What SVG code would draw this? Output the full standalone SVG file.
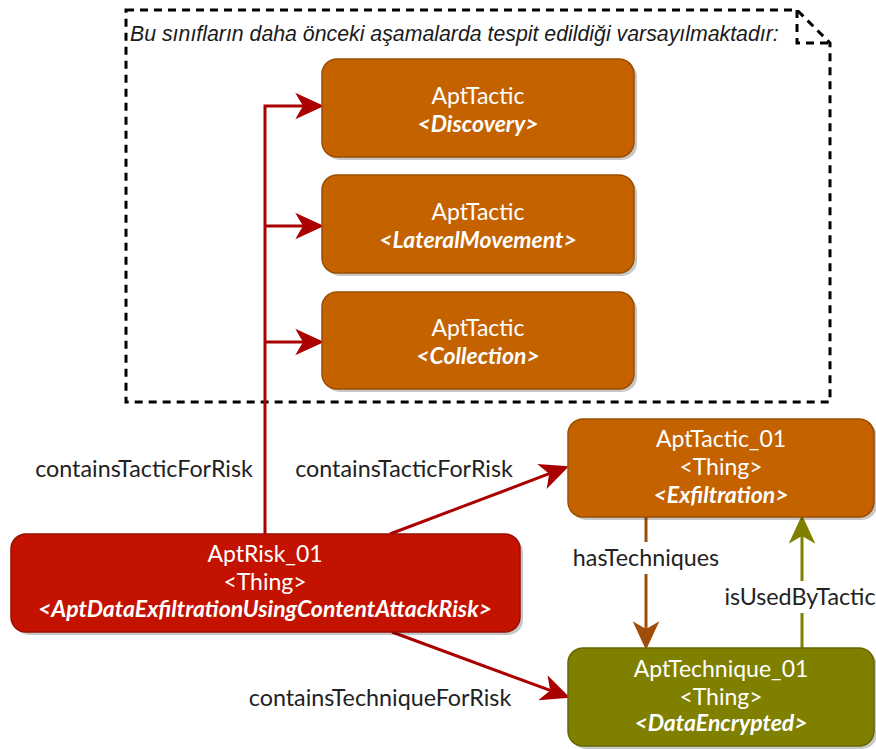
<svg xmlns="http://www.w3.org/2000/svg" width="876" height="749" viewBox="0 0 876 749">
  <defs>
    <style>
      .note { fill: none; stroke: #000; stroke-width: 3; stroke-dasharray: 8 6; }
      .note-text { font-family: "Liberation Sans", Arial, sans-serif; font-style: italic; font-size: 21.3px; fill: #1a1a1a; }
      .shadow { fill: #000; opacity: 0.22; }
      .tactic { fill: #c46200; stroke: #9c4e00; stroke-width: 1.5; }
      .risk { fill: #c41200; stroke: #9a0e00; stroke-width: 1.5; }
      .technique { fill: #808000; stroke: #666600; stroke-width: 1.5; }
      .node-text { font-family: Lato, "Noto Sans", sans-serif; font-size: 23px; fill: #ffffff; text-anchor: middle; }
      .node-text .cls { font-weight: bold; font-style: italic; }
      .edge { fill: none; stroke-width: 3; }
      .edge-red { stroke: #aa0000; }
      .edge-brown { stroke: #9f4d08; }
      .edge-olive { stroke: #7f7f00; }
      .label { font-family: Lato, "Noto Sans", sans-serif; font-size: 23.3px; fill: #222; text-anchor: middle; }
    </style>
    <marker id="arrow-red" markerUnits="userSpaceOnUse" markerWidth="30" markerHeight="30" viewBox="0 -13 27 26" refX="7" refY="0" orient="auto">
      <path d="M26,0 L0,-12 L7,0 L0,12 Z" fill="#aa0000"/>
    </marker>
    <marker id="arrow-brown" markerUnits="userSpaceOnUse" markerWidth="30" markerHeight="30" viewBox="0 -13 27 26" refX="7" refY="0" orient="auto">
      <path d="M26,0 L0,-12 L7,0 L0,12 Z" fill="#9f4d08"/>
    </marker>
    <marker id="arrow-olive" markerUnits="userSpaceOnUse" markerWidth="30" markerHeight="30" viewBox="0 -13 27 26" refX="7" refY="0" orient="auto">
      <path d="M26,0 L0,-12 L7,0 L0,12 Z" fill="#7f7f00"/>
    </marker>
  </defs>

  <rect width="876" height="749" fill="#ffffff"/>

  <!-- dashed note with folded corner -->
  <g id="note">
    <path class="note" d="M126,10 H797 L830,43 V402 H126 Z"/>
    <path class="note" d="M797,10 V43 H830"/>
    <text class="note-text" x="130" y="41">Bu sınıfların daha önceki aşamalarda tespit edildiği varsayılmaktadır:</text>
  </g>

  <!-- connectors -->
  <g id="connectors">
    <path class="edge edge-red" d="M265,534 V106 H303" marker-end="url(#arrow-red)"/>
    <path class="edge edge-red" d="M265,226 H303" marker-end="url(#arrow-red)"/>
    <path class="edge edge-red" d="M265,342 H303" marker-end="url(#arrow-red)"/>
    <path class="edge edge-red" d="M390,534 L549.2,473.7" marker-end="url(#arrow-red)"/>
    <path class="edge edge-red" d="M392,632 L550.2,690.4" marker-end="url(#arrow-red)"/>
    <path class="edge edge-brown" d="M646,517 V629" marker-end="url(#arrow-brown)"/>
    <path class="edge edge-olive" d="M802,648 V536" marker-end="url(#arrow-olive)"/>

    <text class="label" x="144" y="477">containsTacticForRisk</text>
    <text class="label" x="404" y="477">containsTacticForRisk</text>
    <text class="label" x="380" y="706">containsTechniqueForRisk</text>
    <rect x="571" y="542" width="152" height="32" fill="#ffffff"/>
    <text class="label" x="646" y="566">hasTechniques</text>
    <rect x="721" y="581" width="155" height="32" fill="#ffffff"/>
    <text class="label" x="800" y="605">isUsedByTactic</text>
  </g>

  <!-- tactic classes -->
  <g id="tactic-discovery">
    <rect class="shadow" x="325" y="62" width="312" height="98" rx="15"/>
    <rect class="tactic" x="322" y="59" width="312" height="98" rx="15"/>
    <text class="node-text" x="478" y="104">AptTactic</text>
    <text class="node-text" x="478" y="132"><tspan class="cls">&lt;Discovery&gt;</tspan></text>
  </g>
  <g id="tactic-lateral-movement">
    <rect class="shadow" x="325" y="178" width="312" height="98" rx="15"/>
    <rect class="tactic" x="322" y="175" width="312" height="98" rx="15"/>
    <text class="node-text" x="478" y="220">AptTactic</text>
    <text class="node-text" x="478" y="248"><tspan class="cls">&lt;LateralMovement&gt;</tspan></text>
  </g>
  <g id="tactic-collection">
    <rect class="shadow" x="325" y="295" width="312" height="97" rx="15"/>
    <rect class="tactic" x="322" y="292" width="312" height="97" rx="15"/>
    <text class="node-text" x="478" y="336">AptTactic</text>
    <text class="node-text" x="478" y="364"><tspan class="cls">&lt;Collection&gt;</tspan></text>
  </g>

  <!-- instances -->
  <g id="apt-tactic-01">
    <rect class="shadow" x="571" y="422" width="306" height="98" rx="15"/>
    <rect class="tactic" x="568" y="419" width="306" height="98" rx="15"/>
    <text class="node-text" x="721" y="447">AptTactic_01</text>
    <text class="node-text" x="721" y="475">&lt;Thing&gt;</text>
    <text class="node-text" x="721" y="503"><tspan class="cls">&lt;Exfiltration&gt;</tspan></text>
  </g>
  <g id="apt-risk-01">
    <rect class="shadow" x="14" y="537" width="509" height="98" rx="15"/>
    <rect class="risk" x="11" y="534" width="509" height="98" rx="15"/>
    <text class="node-text" x="265" y="562">AptRisk_01</text>
    <text class="node-text" x="265" y="590">&lt;Thing&gt;</text>
    <text class="node-text" x="265" y="617"><tspan class="cls">&lt;AptDataExfiltrationUsingContentAttackRisk&gt;</tspan></text>
  </g>
  <g id="apt-technique-01">
    <rect class="shadow" x="571" y="651" width="306" height="98" rx="15"/>
    <rect class="technique" x="568" y="648" width="306" height="98" rx="15"/>
    <text class="node-text" x="721" y="677">AptTechnique_01</text>
    <text class="node-text" x="721" y="705">&lt;Thing&gt;</text>
    <text class="node-text" x="721" y="731"><tspan class="cls">&lt;DataEncrypted&gt;</tspan></text>
  </g>
</svg>
